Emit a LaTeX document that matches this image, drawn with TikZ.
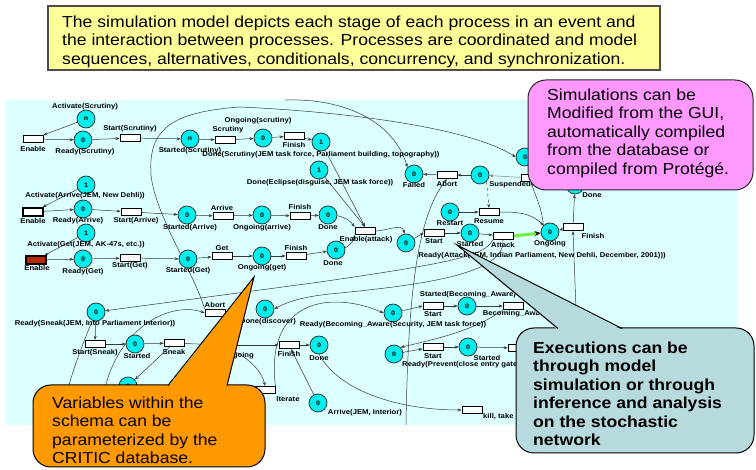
\documentclass[tikz,border=0pt]{standalone}
\usepackage{fontspec}
\setmainfont{Liberation Sans}[FakeStretch=1.1]
\usetikzlibrary{arrows.meta}
\definecolor{panel}{RGB}{220,255,255}
\definecolor{placefill}{RGB}{0,238,238}
\definecolor{note}{RGB}{255,255,153}
\definecolor{pinkc}{RGB}{255,153,255}
\definecolor{orangec}{RGB}{255,153,0}
\definecolor{bluec}{RGB}{183,218,222}
\definecolor{redT}{RGB}{185,40,0}
\definecolor{wire}{RGB}{55,55,55}
\definecolor{greenw}{RGB}{110,240,60}
\pgfdeclarelayer{bg}
\pgfdeclarelayer{fg}
\pgfsetlayers{bg,main,fg}
\begin{document}
\begin{tikzpicture}[x=1pt,y=-1pt,
 place/.style={circle,draw=black!85,line width=0.7pt,fill=placefill,minimum size=18pt,inner sep=0pt,font=\fontsize{6.5}{7}\selectfont\bfseries},
 trans/.style={rectangle,draw=black,line width=0.8pt,fill=white,minimum width=20pt,minimum height=7.5pt,inner sep=0pt},
 lbl/.style={inner sep=0pt,font=\fontsize{7}{8}\selectfont\bfseries},
 arc/.style={draw=wire,line width=0.5pt,-{Stealth[length=4pt,width=3pt]}},
 wireline/.style={draw=wire,line width=0.5pt},
 big/.style={inner sep=0pt,anchor=north west,align=left,font=\fontsize{16}{18.5}\selectfont},
 bigbold/.style={big,font=\fontsize{16}{18.5}\selectfont\bfseries}
]
\useasboundingbox (0,0) rectangle (756,470);

% ---------- places ----------
\node[place] (pActS) at (86,119) {n};
\node[place] (pRdyS) at (83,140) {0};
\node[place] (pStdS) at (190,139) {n};
\node[place] (pOngS) at (263,138) {0};
\node[place] (pDoneS) at (321,142) {1};
\node[place] (pDoneE) at (319,170) {1};
\node[place] (pFail) at (414,174) {0};
\node[place] (pSusp) at (480,175) {0};
\node[place] (pHid1) at (525,157) {0};
\node[place] (pDoneAtk) at (575,185) {0};
\node[place] (pActA) at (86,185) {1};
\node[place] (pRdyA) at (83,209) {0};
\node[place] (pStdA) at (187,215) {0};
\node[place] (pOngA) at (262,215) {0};
\node[place] (pDoneA) at (328,215) {0};
\node[place] (pRdyAtk) at (406,243) {0};
\node[place] (pRestart) at (450,212) {0};
\node[place] (pStdAtk) at (470,233) {0};
\node[place] (pOngAtk) at (550,232) {0};
\node[place] (pActG) at (86,233) {1};
\node[place] (pRdyG) at (83,259) {0};
\node[place] (pStdG) at (188,259) {0};
\node[place] (pOngG) at (262,256) {0};
\node[place] (pDoneG) at (336,250) {0};
\node[place] (pRdySn) at (96,312) {0};
\node[place] (pStdSn) at (135,344) {0};
\node[place] (pHidSn) at (128,386) {0};
\node[place] (pOngSn) at (220,345) {0};
\node[place] (pDoneDis) at (265,309) {0};
\node[place] (pRdyBA) at (393,313) {0};
\node[place] (pStdBA) at (467,306) {0};
\node[place] (pDoneF) at (319,345) {0};
\node[place] (pArrInt) at (318,403) {0};
\node[place] (pRdyPr) at (394,354) {0};
\node[place] (pStdPr) at (468,347) {0};

% ---------- transitions ----------
\node[trans] (tEnS) at (33,139) {};
\node[trans] (tStartS) at (130,138) {};
\node[trans] (tScr) at (225,140) {};
\node[trans] (tFinS) at (294,136) {};
\node[trans] (tAbortF) at (447,175) {};
\node[trans] (tSusp) at (531,178) {};
\node[trans,line width=2.4pt] (tEnA) at (33,212) {};
\node[trans] (tStartA) at (131,212) {};
\node[trans] (tArrive) at (223,216) {};
\node[trans] (tFinA) at (300,216) {};
\node[trans] (tEnAtk) at (365,231) {};
\node[trans] (tStartAtk) at (434,233) {};
\node[trans] (tResume) at (489,212) {};
\node[trans] (tAttack) at (503,236) {};
\node[trans] (tFinAtk) at (573,227) {};
\node[trans,fill=redT,line width=1.6pt] (tEnG) at (36,260) {};
\node[trans] (tStartG) at (130,258) {};
\node[trans] (tGet) at (222,256) {};
\node[trans] (tFinG) at (296,256) {};
\node[trans] (tAbortSn) at (215,313) {};
\node[trans] (tStartSn) at (95,344) {};
\node[trans] (tSneak) at (174,343) {};
\node[trans] (tFinSn) at (289,345) {};
\node[trans] (tIter) at (265,390) {};
\node[trans] (tStartBA) at (433,306) {};
\node[trans] (tBA) at (513,306) {};
\node[trans] (tStartPr) at (433,347) {};
\node[trans] (tHidPr) at (518,348) {};
\node[trans] (tKill) at (472,410) {};

% ---------- free ends ----------
\coordinate (cBot1) at (406,425);
\coordinate (cBot2) at (577,335);
\coordinate (cTopA) at (240,107);
\coordinate (cTopB) at (285,100);
\coordinate (cBL1) at (60,425);
\coordinate (cBL2) at (100,425);

% ---------- labels ----------
\node[lbl] (lActS) at (85,107) {Activate(Scrutiny)};
\node[lbl] (lEnS) at (33,149) {Enable};
\node[lbl] (lRdyS) at (85,152) {Ready(Scrutiny)};
\node[lbl] (lStartS) at (130,129) {Start(Scrutiny)};
\node[lbl] (lStdS) at (190,151) {Started(Scrutiny)};
\node[lbl] (lScr) at (228,130) {Scrutiny};
\node[lbl] (lOngS) at (258,121) {Ongoing(scrutiny)};
\node[lbl] (lFinS) at (294,145) {Finish};
\node[lbl] (lDoneS) at (321,155) {Done(Scrutiny(JEM task force, Parliament building, topography))};
\node[lbl] (lDoneE) at (320,183) {Done(Eclipse(disguise, JEM task force))};
\node[lbl] (lFail) at (414,185) {Failed};
\node[lbl] (lAbortF) at (447,184) {Abort};
\node[lbl] (lSusp) at (510,185) {Suspended};
\node[lbl,anchor=west] (lSuspT) at (537,185) {Suspend};
\node[lbl] (lActA) at (85,196) {Activate(Arrive(JEM, New Dehli))};
\node[lbl] (lEnA) at (33,221) {Enable};
\node[lbl] (lRdyA) at (78,221) {Ready(Arrive)};
\node[lbl] (lStartA) at (136,221) {Start(Arrive)};
\node[lbl] (lStdA) at (190,228) {Started(Arrive)};
\node[lbl] (lArrive) at (222,208) {Arrive};
\node[lbl] (lOngA) at (262,228) {Ongoing(arrive)};
\node[lbl] (lFinA) at (300,207) {Finish};
\node[lbl] (lDoneA) at (328,227) {Done};
\node[lbl] (lEnAtk) at (366,240) {Enable(attack)};
\node[lbl] (lStartAtk) at (434,241) {Start};
\node[lbl] (lRestart) at (450,223) {Restart};
\node[lbl] (lStdAtk) at (470,244) {Started};
\node[lbl] (lResume) at (489,221) {Resume};
\node[lbl] (lAttack) at (503,245) {Attack};
\node[lbl] (lOngAtk) at (550,244) {Ongoing};
\node[lbl] (lFinAtk) at (593,236) {Finish};
\node[lbl] (lDoneAtk) at (592,195) {Done};
\node[lbl] (lRdyAtk) at (542,256) {Ready(Attack(JEM, Indian Parliament, New Dehli, December, 2001)))};
\node[lbl] (lActG) at (86,245) {Activate(Get(JEM, AK-47s, etc.))};
\node[lbl] (lEnG) at (37,268) {Enable};
\node[lbl] (lRdyG) at (83,272) {Ready(Get)};
\node[lbl] (lStartG) at (130,266) {Start(Get)};
\node[lbl] (lStdG) at (188,271) {Started(Get)};
\node[lbl] (lGet) at (222,248) {Get};
\node[lbl] (lOngG) at (262,268) {Ongoing(get)};
\node[lbl] (lFinG) at (296,248) {Finish};
\node[lbl] (lDoneG) at (333,263) {Done};
\node[lbl] (lRdySn) at (95,324) {Ready(Sneak(JEM, Into Parliament Interior))};
\node[lbl] (lAbortSn) at (215,305) {Abort};
\node[lbl] (lStartSn) at (95,353) {Start(Sneak)};
\node[lbl] (lStdSn) at (137,356) {Started};
\node[lbl] (lSneak) at (174,352) {Sneak};
\node[lbl] (lDoneDis) at (268,322) {Done(discover)};
\node[lbl] (lRdyBA) at (393,325) {Ready(Becoming\_Aware(Security, JEM task force))};
\node[lbl] (lStartBA) at (433,314) {Start};
\node[lbl] (lStdBA) at (468,295) {Started(Becoming\_Aware)};
\node[lbl] (lBA) at (515,314) {Becoming\_Aware};
\node[lbl] (lFinSn) at (289,354) {Finish};
\node[lbl] (lDoneF) at (319,358) {Done};
\node[lbl] (lOngSn) at (238,356) {Ongoing};
\node[lbl] (lIter) at (288,399) {Iterate};
\node[lbl] (lArrInt) at (365,413) {Arrive(JEM, Interior)};
\node[lbl,anchor=west] (lRdyPr) at (402,365) {Ready(Prevent(close entry gate))};
\node[lbl] (lStartPr) at (433,356) {Start};
\node[lbl] (lStdPr) at (487,358) {Started};
\node[lbl,anchor=west] (lKill) at (483,417) {kill, take};

% ---------- panel and arcs ----------
\begin{pgfonlayer}{bg}
\fill[panel] (6,100) rectangle (737,425);
% row 1
\draw[arc] (pActS) -- (tEnS);
\draw[arc] (tEnS) -- (pRdyS);
\draw[arc] (pRdyS) -- (tStartS);
\draw[arc] (tStartS) -- (pStdS);
\draw[arc] (pStdS) -- (tScr);
\draw[arc] (tScr) -- (pOngS);
\draw[arc] (pOngS) -- (tFinS);
\draw[arc] (tFinS) -- (pDoneS);
% row 2
\draw[arc] (pActA) -- (tEnA);
\draw[arc] (tEnA) -- (pRdyA);
\draw[arc] (pRdyA) -- (tStartA);
\draw[arc] (tStartA) -- (pStdA);
\draw[arc] (pStdA) -- (tArrive);
\draw[arc] (tArrive) -- (pOngA);
\draw[arc] (pOngA) -- (tFinA);
\draw[arc] (tFinA) -- (pDoneA);
\draw[arc] (pDoneA) to[bend left=20] (tEnAtk.north west);
% row 3
\draw[arc] (pActG) -- (tEnG);
\draw[arc] (tEnG) -- (pRdyG);
\draw[arc] (pRdyG) -- (tStartG);
\draw[arc] (tStartG) -- (pStdG);
\draw[arc] (pStdG) -- (tGet);
\draw[arc] (tGet) -- (pOngG);
\draw[arc] (pOngG) -- (tFinG);
\draw[arc] (tFinG) -- (pDoneG);
\draw[arc] (pDoneG) to[bend right=25] (tEnAtk.south west);
\draw[arc] (pDoneS) -- (tEnAtk.north);
\draw[arc] (pDoneE) -- (tEnAtk.north);
% attack
\draw[arc] (tEnAtk.east) to[out=0,in=100] (pRdyAtk);
\draw[arc] (pRdyAtk) -- (tStartAtk.west);
\draw[arc] (tStartAtk) -- (pStdAtk);
\draw[arc] (pStdAtk) -- (tAttack);
\draw[draw=greenw,line width=3pt,-{Stealth[length=6pt,width=5pt,color=black]}] (tAttack.east) -- (pOngAtk);
\draw[arc] (pRestart) -- (tResume);
\draw[arc] (tResume.east) to[out=0,in=135] (pOngAtk);
\draw[arc] (tFinAtk) -- (pOngAtk);
\draw[arc] (tFinAtk) -- (pDoneAtk);
\draw[arc] (cBot2) -- (tFinAtk.south);
\draw[arc] (pOngAtk.north west) .. controls (542,208) and (535,195) .. (tSusp.south);
\draw[arc,draw=gray] (tSusp) -- (pSusp);
\draw[arc,dashed] (pSusp.south east) -- (tResume.north);
\draw[arc] (pSusp) -- (tAbortF);
\draw[arc] (tAbortF) -- (pFail);
\draw[arc] (cBot1) .. controls (408,290) and (418,215) .. (tAbortF.south);
% long arcs
\draw[arc] (tAbortSn.north west) .. controls (195,275) and (155,215) .. (151,175) .. controls (148,130) and (170,112) .. (cTopA) .. controls (350,112) and (470,128) .. (pHid1.west);
\draw[arc] (cTopB) .. controls (350,98) and (395,125) .. (pFail.north west);
\draw[arc] (tAttack.south west) .. controls (485,256) and (450,263) .. (320,282) -- (pRdySn);
\draw[arc] (tAttack.south) .. controls (505,275) and (420,285) .. (330,294) .. controls (300,297) and (285,303) .. (pDoneDis.east);
% sneak
\draw[arc] (pRdySn) -- (tStartSn);
\draw[arc] (tStartSn) -- (pStdSn);
\draw[arc] (pStdSn) -- (tSneak);
\draw[arc] (tSneak) -- (pHidSn);
\draw[arc] (tSneak) -- (pOngSn);
\draw[arc] (pOngSn) -- (tFinSn);
\draw[arc] (tFinSn) -- (pDoneF);
\draw[arc] (pArrInt) -- (tFinSn);
\draw[arc] (pOngSn) .. controls (250,358) and (262,372) .. (tIter.north);
\draw[arc] (tIter.north east) .. controls (265,300) and (330,290) .. (pRdyBA.west);
\draw[arc] (pDoneF.south) .. controls (340,392) and (400,410) .. (tKill.west);
\draw[wireline] (pRdySn) .. controls (80,350) and (65,390) .. (cBL1);
\draw[arc] (cBL2) .. controls (103,330) and (170,300) .. (tAbortSn.west);
% becoming aware / prevent
\draw[arc] (pRdyBA) -- (tStartBA.west);
\draw[arc] (tStartBA) -- (pStdBA);
\draw[arc] (pStdBA) -- (tBA);
\draw[arc] (tBA.south west) .. controls (470,333) and (430,340) .. (pRdyPr.north east);
\draw[arc] (pRdyPr) -- (tStartPr);
\draw[arc] (tStartPr) -- (pStdPr);
\draw[arc] (pStdPr) -- (tHidPr);
\end{pgfonlayer}

% ---------- callouts ----------
\begin{pgfonlayer}{fg}
\draw[fill=note,draw=black!70,line width=1.2pt] (48,6) rectangle (660,70);
\node[big] (tTop) at (62,15.3) {The simulation model depicts each stage of each process in an event and\\the interaction between processes. Processes are coordinated and model\\sequences, alternatives, conditionals, concurrency, and synchronization.};

\draw[fill=pinkc,draw=black!85,line width=1pt,rounded corners=18pt] (528,80) rectangle (753,190);
\node[big] (tPink) at (547,88.3) {Simulations can be\\Modified from the GUI,\\automatically compiled\\from the database or\\compiled from Protégé.};

\draw[fill=orangec,draw=black,line width=1pt,rounded corners=18pt] (33,385) rectangle (265,467);
\fill[orangec] (168,387) -- (254,277) -- (227,387) -- cycle;
\draw[line width=1pt] (168,385.5) -- (254,277) -- (227,385.5);
\node[big] (tOrange) at (52,396.3) {Variables within the\\schema can be\\parameterized by the\\CRITIC database.};

\draw[fill=bluec,draw=black,line width=1pt,rounded corners=18pt] (516,328) rectangle (754,453);
\fill[bluec] (558,330) -- (457,245) -- (622,330) -- cycle;
\draw[line width=1pt] (558,328.5) -- (457,245) -- (622,328.5);
\node[bigbold] (tBlue) at (533,341.5) {Executions can be\\through model\\simulation or through\\inference and analysis\\on the stochastic\\network};
\end{pgfonlayer}
\end{tikzpicture}
\end{document}
